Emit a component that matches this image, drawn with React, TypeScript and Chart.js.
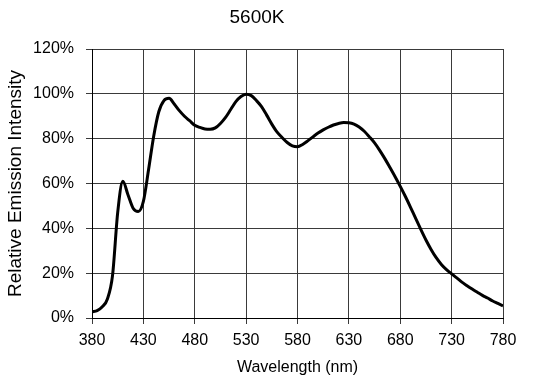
import React, { useEffect, useRef } from "react";
import { Chart, registerables } from "chart.js";

Chart.register(...registerables);

const TITLE = "5600K";
const X_TITLE = "Wavelength (nm)";
const Y_TITLE = "Relative Emission Intensity";

const wavelengths = [
  380, 385, 390, 395, 400, 405, 410, 415, 420, 425, 430, 435, 440, 445, 450, 455,
  460, 465, 470, 475, 480, 485, 490, 495, 500, 505, 510, 515, 520, 525, 530, 535,
  540, 545, 550, 555, 560, 565, 570, 575, 580, 585, 590, 595, 600, 605, 610, 615,
  620, 625, 630, 635, 640, 645, 650, 655, 660, 665, 670, 675, 680, 685, 690, 695,
  700, 705, 710, 715, 720, 725, 730, 735, 740, 745, 750, 755, 760, 765, 770, 775, 780,
];

const intensity = [
  2.8, 3.3, 5, 8.5, 19, 47, 61, 55, 49, 47.5, 52, 66, 81, 92, 97, 98,
  95.5, 92.5, 90, 88, 86, 85, 84.3, 84.2, 84.8, 86.8, 89.5, 93, 96.5, 98.8, 99.8, 99.2,
  97, 94.3, 90.5, 86.5, 83, 80.5, 78.3, 76.8, 76.4, 77.4, 79, 80.8, 82.5, 83.9, 85.1, 86.1,
  86.8, 87.2, 87.1, 86.5, 85.2, 83.3, 80.8, 78.1, 74.8, 71.1, 67.1, 63, 58.7, 54.2, 49.4, 44.4,
  39.5, 34.8, 30.6, 26.9, 23.9, 21.6, 19.7, 17.9, 16, 14.4, 12.9, 11.5, 10.1, 8.9, 7.6, 6.5, 5.4,
];

const xTicks = [380, 430, 480, 530, 580, 630, 680, 730, 780];
const yTicks = [0, 20, 40, 60, 80, 100, 120];

const FONT = "'Liberation Sans', Arial, sans-serif";

export default function App() {
  const ref = useRef<HTMLCanvasElement | null>(null);

  useEffect(() => {
    if (!ref.current) return;
    const titlePlugin = {
      id: "customTitles",
      afterDraw(chart: any) {
        const ctx = chart.ctx;
        const area = chart.chartArea;
        ctx.save();
        ctx.fillStyle = "#000";
        ctx.font = `19px ${FONT}`;
        ctx.textAlign = "center";
        ctx.textBaseline = "alphabetic";
        ctx.fillText(TITLE, 257, 23);
        ctx.translate(15.5, (area.top + area.bottom) / 2);
        ctx.rotate(-Math.PI / 2);
        ctx.textBaseline = "middle";
        ctx.fillText(Y_TITLE, 0, 0);
        ctx.restore();
      },
    };
    const chart = new Chart(ref.current, {
      type: "line",
      data: {
        datasets: [
          {
            data: wavelengths.map((w, i) => ({ x: w, y: intensity[i] })),
            borderColor: "#000",
            borderWidth: 3,
            pointRadius: 0,
            cubicInterpolationMode: "monotone",
            fill: false,
          },
        ],
      },
      options: {
        animation: false,
        responsive: false,
        maintainAspectRatio: false,
        layout: { padding: { top: 49, right: 40, left: 0, bottom: 0 } },
        plugins: {
          legend: { display: false },
          title: { display: false },
          tooltip: { enabled: false },
        },
        scales: {
          x: {
            type: "linear",
            min: 380,
            max: 780,
            afterFit(scale: any) {
              scale.height = 73;
            },
            afterBuildTicks(scale: any) {
              scale.ticks = xTicks.map((v) => ({ value: v }));
            },
            ticks: {
              color: "#000",
              font: { family: FONT, size: 16 },
              padding: 7,
              maxRotation: 0,
              autoSkip: false,
            },
            grid: { color: "#3a3a3a", lineWidth: 1, tickLength: 6, tickColor: "#3a3a3a" },
            border: { color: "#000", width: 1 },
            title: {
              display: true,
              text: X_TITLE,
              color: "#000",
              font: { family: FONT, size: 16 },
              padding: { top: 0, bottom: 14 },
            },
          },
          y: {
            min: 0,
            max: 120,
            afterFit(scale: any) {
              scale.width = 92;
            },
            afterBuildTicks(scale: any) {
              scale.ticks = yTicks.map((v) => ({ value: v }));
            },
            ticks: {
              color: "#000",
              font: { family: FONT, size: 16 },
              padding: 12,
              callback: (v: any) => `${v}%`,
            },
            grid: { color: "#3a3a3a", lineWidth: 1, tickLength: 6, tickColor: "#3a3a3a" },
            border: { color: "#000", width: 1 },
            title: { display: false },
          },
        },
      },
      plugins: [titlePlugin],
    } as any);
    return () => chart.destroy();
  }, []);

  return (
    <div style={{ margin: "-8px", width: 543, height: 391 }}>
      <canvas ref={ref} width={543} height={391} style={{ display: "block", width: 543, height: 391 }} />
    </div>
  );
}
